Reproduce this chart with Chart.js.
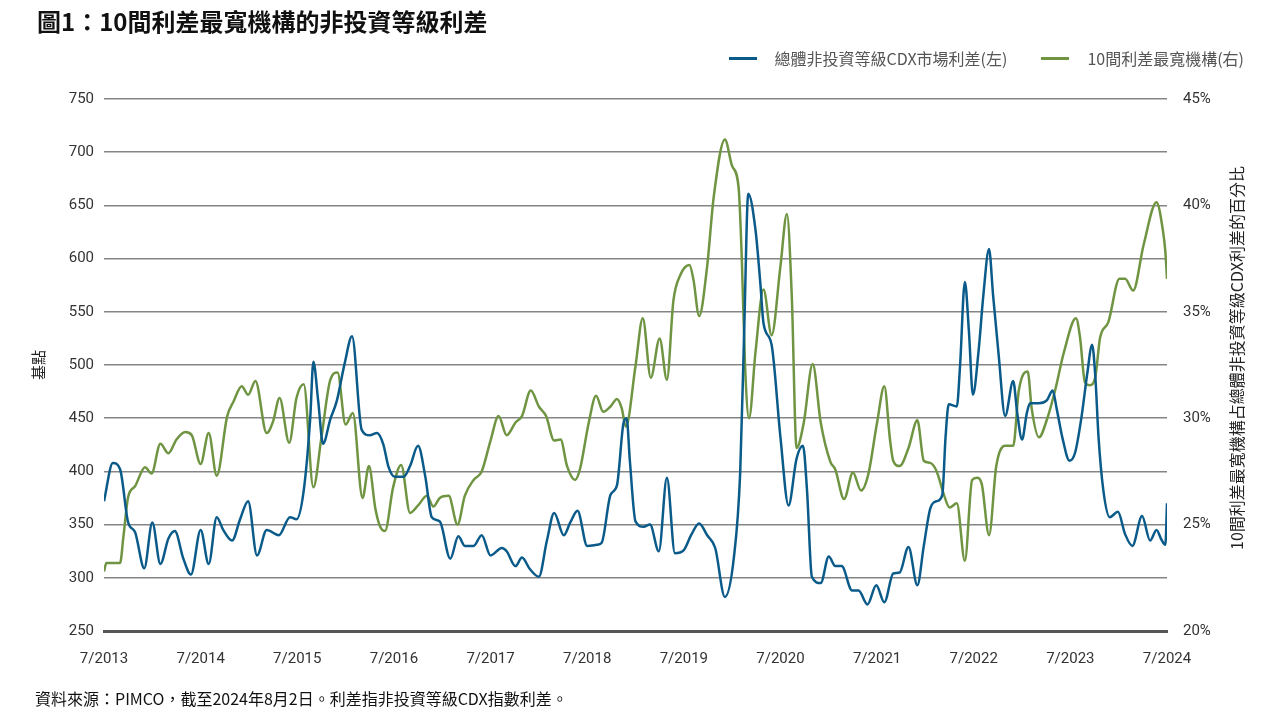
<!DOCTYPE html>
<html>
<head>
<meta charset="utf-8">
<script src="https://cdn.jsdelivr.net/npm/chart.js@4.4.1/dist/chart.umd.min.js"></script>
<style>
    html, body { margin: 0; padding: 0; background: #fff; }
    body { width: 1280px; height: 720px; position: relative; overflow: hidden; font-family: 'Noto Sans CJK TC', sans-serif; }
    #title { position: absolute; left: 37px; top: 8px; font-size: 24px; font-weight: 700; color: #111; line-height: 26px; }
    #legend { position: absolute; right: 36px; top: 47px; display: flex; align-items: center; font-size: 16px; color: #555; line-height: 22px; }
    #legend .item { display: flex; align-items: center; margin-left: 34px; }
    #legend .swatch { width: 28px; height: 3px; margin-right: 18px; }
    #note { position: absolute; left: 35px; top: 688px; font-size: 16px; color: #111; line-height: 20px; }
    #wrap { position: absolute; left: 0; top: 0; width: 1280px; height: 720px; }
</style>
</head>
<body>
<div id="wrap"><canvas id="spreadChart"></canvas></div>
<div id="title">圖1：10間利差最寬機構的非投資等級利差</div>
<div id="legend"></div>
<div id="note">資料來源：PIMCO，截至2024年8月2日。利差指非投資等級CDX指數利差。</div>
<script>
// x 軸刻度（每 12 個月一個，0 = 2013 年 7 月）
const xTickLabels = ['7/2013', '7/2014', '7/2015', '7/2016', '7/2017', '7/2018', '7/2019', '7/2020', '7/2021', '7/2022', '7/2023', '7/2024'];

// 總體非投資等級CDX市場利差 (基點)，x = 自 2013/7 起的月數
const hyMonths = [0, 1.1, 2, 3, 3.85, 5, 6, 7, 8, 8.8, 9.85, 10.8, 12, 13, 14, 14.8, 15.9, 16.9, 17.9, 19,
    20.2, 21.7, 23.1, 23.9, 24.8, 25.6, 26, 26.6, 27.2, 28.1, 28.9, 29.9, 30.8, 32, 33, 33.9, 34.7, 35.3, 36.1, 37.2,
    38, 39, 39.9, 40.7, 41.7, 43, 44, 44.8, 45.9, 46.9, 48, 49.4, 50, 51.1, 51.9, 52.9, 54, 55, 55.9, 57.1,
    57.9, 58.8, 60, 61.2, 61.8, 62.9, 63.7, 64.5, 64.9, 65.3, 66, 67, 67.8, 68.9, 69.9, 70.9, 72, 72.9, 73.9, 74.9,
    75.9, 77.1, 78.2, 79, 79.5, 80, 80.9, 81.5, 81.9, 82.9, 84, 85, 86, 86.8, 87.3, 87.9, 89, 90, 90.8, 91.6,
    92.9, 93.7, 94.8, 95.9, 96.9, 98, 98.8, 99.9, 101, 101.8, 102.6, 103.4, 104.1, 104.5, 104.9, 105.9, 106.3, 106.9, 107.4, 107.9,
    108.6, 109.2, 109.9, 110.4, 111.1, 111.9, 112.9, 113.4, 114, 114.6, 115, 116.1, 117.1, 117.8, 118.3, 119, 119.9, 120.6, 121.4, 122.1,
    122.7, 123.1, 123.5, 124.1, 124.9, 125.9, 126.8, 127.7, 128.9, 129.9, 130.7, 131.3, 131.8, 132];
const hySpread = [372, 408, 402, 352, 343, 309, 352, 313, 337, 344, 318, 303, 345, 313, 357, 345, 335, 355, 372, 321,
    345, 340, 357, 355, 382, 449, 503, 466, 426, 449, 466, 502, 527, 439, 434, 436, 425, 405, 395, 395,
    405, 424, 395, 357, 353, 318, 339, 330, 330, 340, 321, 328, 325, 311, 319, 308, 301, 335, 361, 340,
    352, 363, 330, 331, 333, 378, 387, 445, 450, 410, 353, 348, 350, 325, 394, 323, 326, 340, 351, 340,
    328, 282, 318, 399, 533, 661, 627, 577, 539, 519, 432, 368, 412, 424, 382, 301, 295, 320, 311, 311,
    288, 288, 275, 293, 277, 304, 305, 329, 293, 330, 365, 372, 378, 432, 463, 461, 499, 578, 532, 472,
    513, 566, 609, 566, 509, 452, 485, 455, 430, 455, 464, 464, 467, 476, 459, 432, 410, 418, 452, 492,
    519, 489, 432, 382, 357, 362, 341, 330, 358, 335, 345, 336, 331, 370];

// 10間利差最寬機構占比 (%)
const top10Months = [0, 0.3, 2, 2.4, 3, 3.85, 5.1, 5.9, 7, 8, 9, 10.1, 10.9, 12, 13, 14, 15.3, 16.1, 17.1, 17.9,
    18.8, 20.2, 21, 21.8, 23, 23.9, 24.8, 26, 27, 28.1, 29, 30, 30.9, 32.1, 32.9, 33.7, 34.3, 34.9, 35.9, 36.9,
    38, 39, 40.1, 40.9, 41.7, 42.8, 43.9, 44.8, 45.9, 46.9, 48, 49, 50, 51.1, 51.9, 53, 54, 54.9, 55.9, 56.7,
    57.5, 58.5, 59.1, 60.2, 61.1, 62, 62.9, 63.7, 64.3, 64.8, 66, 66.9, 67.9, 69, 69.9, 70.7, 71.6, 72.7, 73.2, 73.9,
    74.9, 75.7, 77.1, 78, 78.8, 79.2, 79.6, 80.1, 80.9, 81.9, 82.9, 84, 84.8, 85.4, 86, 86.9, 88, 89, 90.2, 90.8,
    91.9, 93, 94, 94.9, 96, 96.9, 97.6, 98, 98.8, 99.9, 101, 101.8, 102.6, 103.4, 104.3, 105, 105.9, 106.9, 107.8, 108.4,
    109, 109.9, 110.8, 111.9, 112.9, 113.6, 114.7, 115.2, 116.1, 117.1, 118.1, 119.2, 120.7, 121.2, 121.8, 122.4, 123.1, 123.7, 124.7, 126.1,
    126.8, 127.8, 129.1, 130.7, 131.5, 131.8, 132];
const top10Share = [22.8, 23.2, 23.2, 24.4, 26.3, 26.8, 27.7, 27.4, 28.8, 28.35, 29.0, 29.35, 29.2, 27.85, 29.3, 27.3, 30.1, 30.8, 31.5, 31.1,
    31.75, 29.3, 29.85, 30.95, 28.85, 30.95, 31.6, 26.75, 29.1, 31.8, 32.15, 29.7, 30.25, 26.25, 27.75, 25.75, 24.9, 24.7, 26.75, 27.8,
    25.55, 25.9, 26.35, 25.85, 26.25, 26.35, 25.0, 26.35, 27.1, 27.5, 28.95, 30.1, 29.2, 29.8, 30.1, 31.3, 30.55, 30.1, 28.95, 29.0,
    27.75, 27.1, 27.6, 29.8, 31.05, 30.3, 30.55, 30.9, 30.45, 29.6, 32.45, 34.7, 31.9, 33.75, 31.8, 35.5, 36.75, 37.2, 36.5, 34.8,
    37.15, 40.35, 43.1, 41.85, 40.85, 37.5, 32.5, 30.0, 33.1, 36.05, 33.9, 37.15, 39.6, 35.8, 28.6, 29.8, 32.55, 29.8, 27.95, 27.6,
    26.2, 27.45, 26.6, 27.35, 29.8, 31.5, 29.0, 28.0, 27.75, 28.6, 29.9, 28.0, 27.9, 27.5, 26.4, 25.8, 26.0, 23.3, 27.1, 27.2,
    26.9, 24.5, 27.75, 28.7, 28.7, 31.3, 32.2, 30.45, 29.1, 29.95, 31.3, 33.1, 34.7, 33.8, 31.7, 31.55, 31.95, 33.8, 34.5, 36.55,
    36.55, 36.0, 38.15, 40.15, 38.8, 37.8, 36.55];

const rightTitle = '10間利差最寬機構占總體非投資等級CDX利差的百分比';
const tickFont = { family: "Roboto, 'Noto Sans CJK TC', sans-serif", size: 15 };

// 右側座標軸標題（由下往上讀）
const rightTitlePlugin = {
    id: 'rightTitle',
    afterDraw(chart) {
        const { ctx, chartArea } = chart;
        ctx.save();
        ctx.translate(1237, (chartArea.top + chartArea.bottom) / 2 - 7);
        ctx.rotate(-Math.PI / 2);
        ctx.font = "16px 'Noto Sans CJK TC', sans-serif";
        ctx.fillStyle = '#222';
        ctx.textAlign = 'center';
        ctx.textBaseline = 'middle';
        ctx.fillText(rightTitle, 0, 0);
        ctx.restore();
    }
};

const spreadChart = new Chart(document.getElementById('spreadChart'), {
    type: 'line',
    data: {
        datasets: [{
            label: '總體非投資等級CDX市場利差(左)',
            data: hyMonths.map((m, i) => ({ x: m, y: hySpread[i] })),
            borderColor: '#0b5b8a',
            backgroundColor: '#0b5b8a',
            borderWidth: 2.5,
            pointRadius: 0,
            cubicInterpolationMode: 'monotone',
            yAxisID: 'y'
        }, {
            label: '10間利差最寬機構(右)',
            data: top10Months.map((m, i) => ({ x: m, y: top10Share[i] })),
            borderColor: '#6f9442',
            backgroundColor: '#6f9442',
            borderWidth: 2.5,
            pointRadius: 0,
            cubicInterpolationMode: 'monotone',
            yAxisID: 'y1'
        }]
    },
    options: {
        responsive: true,
        maintainAspectRatio: false,
        animation: false,
        layout: { padding: { top: 99, left: 0, right: 0, bottom: 0 } },
        plugins: {
            legend: { display: false },
            tooltip: { enabled: false }
        },
        scales: {
            x: {
                type: 'linear',
                min: 0,
                max: 132,
                grid: { display: false, drawTicks: false },
                border: { display: true, color: '#555', width: 3 },
                afterBuildTicks: scale => {
                    scale.ticks = xTickLabels.map((l, i) => ({ value: i * 12 }));
                },
                ticks: {
                    autoSkip: false,
                    maxRotation: 0,
                    padding: 19,
                    color: '#333',
                    font: tickFont,
                    callback: (v, i) => xTickLabels[i]
                },
                afterFit: scale => { scale.height = 89; }
            },
            y: {
                position: 'left',
                min: 250,
                max: 750,
                grid: { color: '#858585', lineWidth: 1.5, drawTicks: false },
                border: { display: false },
                ticks: { stepSize: 50, padding: 10, color: '#333', font: tickFont },
                title: {
                    display: true,
                    text: '基點',
                    color: '#222',
                    font: { family: "'Noto Sans CJK TC', sans-serif", size: 15 },
                    padding: { top: 29, bottom: 0 }
                },
                afterFit: scale => { scale.width = 104; }
            },
            y1: {
                position: 'right',
                min: 20,
                max: 45,
                grid: { display: false, drawTicks: false },
                border: { display: false },
                ticks: { stepSize: 5, padding: 16, color: '#333', font: tickFont, callback: v => v + '%' },
                afterFit: scale => { scale.width = 113; }
            }
        }
    },
    plugins: [rightTitlePlugin]
});

// 圖例
const legendBox = document.getElementById('legend');
spreadChart.data.datasets.forEach(ds => {
    const item = document.createElement('div');
    item.className = 'item';
    item.innerHTML = `<span class="swatch" style="background:${ds.borderColor}"></span><span>${ds.label}</span>`;
    legendBox.appendChild(item);
});
</script>
</body>
</html>
